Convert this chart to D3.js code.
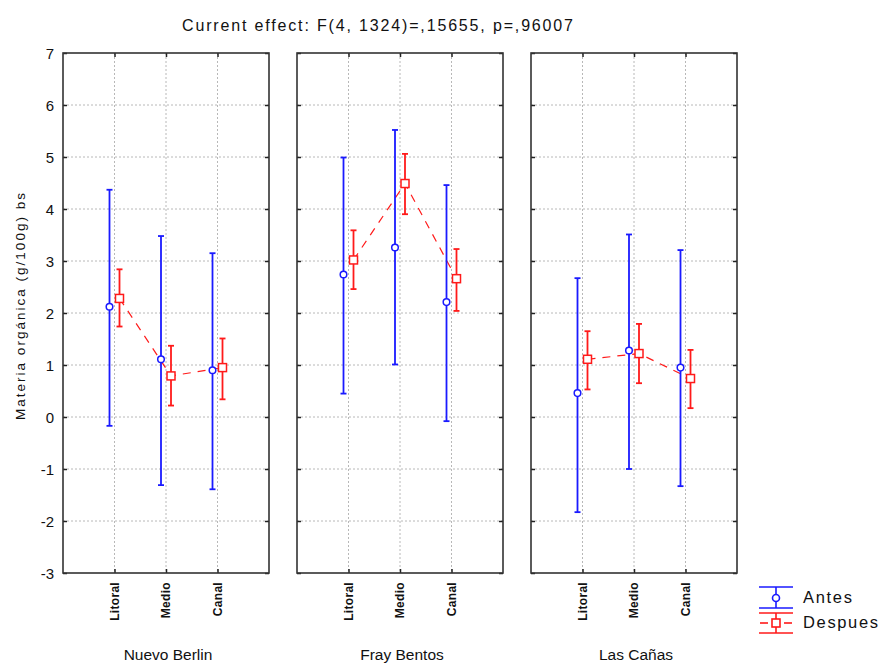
<!DOCTYPE html>
<html>
<head>
<meta charset="utf-8">
<script src="https://cdn.jsdelivr.net/npm/d3@7"></script>
<style>
  body { margin: 0; background: #fff; }
  text { font-family: "Liberation Sans", Arial, sans-serif; fill: #111; }
</style>
</head>
<body>
<svg id="chart" width="883" height="663"></svg>
<script>
// data
const groups = ['Nuevo Berlin', 'Fray Bentos', 'Las Cañas'];
const zones = ['Litoral', 'Medio', 'Canal'];
const yTicks = [-3, -2, -1, 0, 1, 2, 3, 4, 5, 6, 7];

// means and 95% CI limits, one row per group, one value per zone
const antesMean = [[2.12, 1.11, 0.90], [2.74, 3.26, 2.21], [0.46, 1.28, 0.95]];
const antesLo = [[-0.17, -1.31, -1.39], [0.45, 1.01, -0.08], [-1.83, -1.00, -1.33]];
const antesHi = [[4.37, 3.48, 3.15], [4.99, 5.52, 4.46], [2.67, 3.51, 3.21]];
const despMean = [[2.28, 0.79, 0.95], [3.02, 4.49, 2.66], [1.11, 1.22, 0.74]];
const despLo = [[1.74, 0.22, 0.34], [2.46, 3.90, 2.04], [0.53, 0.65, 0.17]];
const despHi = [[2.84, 1.37, 1.51], [3.59, 5.06, 3.23], [1.65, 1.79, 1.29]];

const BLUE = '#1a1aff', RED = '#ff1a1a';
const svg = d3.select('#chart');

const plotTop = 53, plotBottom = 573, panelW = 206, gap = 28, left0 = 63;
const y = d3.scaleLinear().domain([-3, 7]).range([plotBottom, plotTop]);
const panelX = d3.scaleBand().domain(groups).range([left0, left0 + 3 * panelW + 2 * gap]).paddingInner(gap / (panelW + gap));

svg.append('text').attr('x', 182).attr('y', 31)
  .attr('font-size', 16).attr('textLength', 391).attr('lengthAdjust', 'spacing')
  .text('Current effect: F(4, 1324)=,15655, p=,96007');

// y tick labels
svg.append('g').selectAll('text').data(yTicks).join('text')
  .attr('x', 54).attr('y', (d) => y(d) + 5.5).attr('text-anchor', 'end').attr('font-size', 15)
  .text((d) => d);

svg.append('text').attr('transform', `translate(25,420) rotate(-90)`)
  .attr('font-size', 13.5).attr('textLength', 227).attr('lengthAdjust', 'spacing')
  .text('Materia orgánica (g/100g) bs');

groups.forEach((g, gi) => {
  const x0 = panelX(g);
  const x = d3.scalePoint().domain(zones).range([x0 + panelW / 4, x0 + panelW * 3 / 4]);
  const p = svg.append('g');

  // grid
  p.append('g').selectAll('line').data(yTicks.slice(1, -1)).join('line')
    .attr('x1', x0).attr('x2', x0 + panelW).attr('y1', (d) => y(d)).attr('y2', (d) => y(d))
    .attr('stroke', '#b8b8b8').attr('stroke-dasharray', '2 2');
  p.append('g').selectAll('line').data(zones).join('line')
    .attr('x1', (d) => x(d)).attr('x2', (d) => x(d)).attr('y1', plotTop).attr('y2', plotBottom)
    .attr('stroke', '#b8b8b8').attr('stroke-dasharray', '2 2');

  // axes with inward ticks
  p.append('g').attr('transform', `translate(${x0},0)`)
    .call(d3.axisRight(y).tickValues(yTicks).tickSize(4).tickFormat(''))
    .call((a) => a.select('.domain').remove());
  p.append('g').attr('transform', `translate(${x0 + panelW},0)`)
    .call(d3.axisLeft(y).tickValues(yTicks).tickSize(4).tickFormat(''))
    .call((a) => a.select('.domain').remove());
  p.append('g').attr('transform', `translate(0,${plotTop})`)
    .call(d3.axisBottom(x).tickSize(4).tickFormat(''))
    .call((a) => a.select('.domain').remove());
  p.append('g').attr('transform', `translate(0,${plotBottom})`)
    .call(d3.axisTop(x).tickSize(4).tickFormat(''))
    .call((a) => a.select('.domain').remove());
  p.selectAll('.tick line').attr('stroke', '#222').attr('stroke-width', 1.5);

  p.append('rect').attr('x', x0).attr('y', plotTop).attr('width', panelW).attr('height', plotBottom - plotTop)
    .attr('fill', 'none').attr('stroke', '#333').attr('stroke-width', 1.6);

  // category labels
  p.append('g').selectAll('text').data(zones).join('text')
    .attr('transform', (d) => `translate(${x(d) + 4},582) rotate(-90)`)
    .attr('text-anchor', 'end').attr('font-size', 12).attr('font-weight', 'bold')
    .attr('letter-spacing', 0.3).text((d) => d);

  p.append('text').attr('x', x0 + panelW / 2 + 2).attr('y', 660).attr('text-anchor', 'middle')
    .attr('font-size', 15.5).text(g);

  const off = 5;
  const antes = zones.map((z, i) => ({ x: x(z) - off, m: antesMean[gi][i], lo: antesLo[gi][i], hi: antesHi[gi][i] }));
  const desp = zones.map((z, i) => ({ x: x(z) + off, m: despMean[gi][i], lo: despLo[gi][i], hi: despHi[gi][i] }));

  // dashed line for Despues
  p.append('path').datum(desp)
    .attr('d', d3.line().x((d) => d.x).y((d) => y(d.m)))
    .attr('fill', 'none').attr('stroke', RED).attr('stroke-width', 1.2).attr('stroke-dasharray', '8 7');

  const bars = (data, col) => {
    const b = p.append('g').attr('stroke', col).attr('stroke-width', 1.8);
    b.selectAll('.v').data(data).join('line').attr('x1', (d) => d.x).attr('x2', (d) => d.x)
      .attr('y1', (d) => y(d.lo)).attr('y2', (d) => y(d.hi));
    b.selectAll('.t').data(data.flatMap((d) => [{ x: d.x, v: d.lo }, { x: d.x, v: d.hi }])).join('line')
      .attr('x1', (d) => d.x - 3).attr('x2', (d) => d.x + 3).attr('y1', (d) => y(d.v)).attr('y2', (d) => y(d.v));
  };
  bars(antes, BLUE);
  bars(desp, RED);

  p.append('g').selectAll('circle').data(antes).join('circle')
    .attr('cx', (d) => d.x).attr('cy', (d) => y(d.m)).attr('r', 3.3)
    .attr('fill', '#fff').attr('stroke', BLUE).attr('stroke-width', 1.5);
  p.append('g').selectAll('rect').data(desp).join('rect')
    .attr('x', (d) => d.x - 4).attr('y', (d) => y(d.m) - 4).attr('width', 8).attr('height', 8)
    .attr('fill', '#fff').attr('stroke', RED).attr('stroke-width', 1.5);
});

// legend
const lg = svg.append('g').attr('transform', 'translate(759,587)');
const blueL = lg.append('g').attr('stroke', BLUE).attr('stroke-width', 1.6);
blueL.append('line').attr('x1', 0).attr('x2', 34).attr('y1', 0).attr('y2', 0);
blueL.append('line').attr('x1', 0).attr('x2', 34).attr('y1', 21).attr('y2', 21);
blueL.append('line').attr('x1', 17).attr('x2', 17).attr('y1', 0).attr('y2', 21);
blueL.append('circle').attr('cx', 17).attr('cy', 11).attr('r', 3.5).attr('fill', '#fff');
lg.append('text').attr('x', 44).attr('y', 16).attr('font-size', 16.5)
  .attr('textLength', 49).attr('lengthAdjust', 'spacing').text('Antes');

const redL = lg.append('g').attr('stroke', RED).attr('stroke-width', 1.6);
redL.append('line').attr('x1', 0).attr('x2', 34).attr('y1', 26).attr('y2', 26);
redL.append('line').attr('x1', 0).attr('x2', 34).attr('y1', 46).attr('y2', 46);
redL.append('line').attr('x1', 17).attr('x2', 17).attr('y1', 26).attr('y2', 46);
redL.append('line').attr('x1', 1).attr('x2', 9).attr('y1', 36).attr('y2', 36);
redL.append('line').attr('x1', 25).attr('x2', 33).attr('y1', 36).attr('y2', 36);
redL.append('rect').attr('x', 13).attr('y', 32).attr('width', 8).attr('height', 8).attr('fill', '#fff');
lg.append('text').attr('x', 44).attr('y', 41).attr('font-size', 16.5)
  .attr('textLength', 75).attr('lengthAdjust', 'spacing').text('Despues');
</script>
</body>
</html>
